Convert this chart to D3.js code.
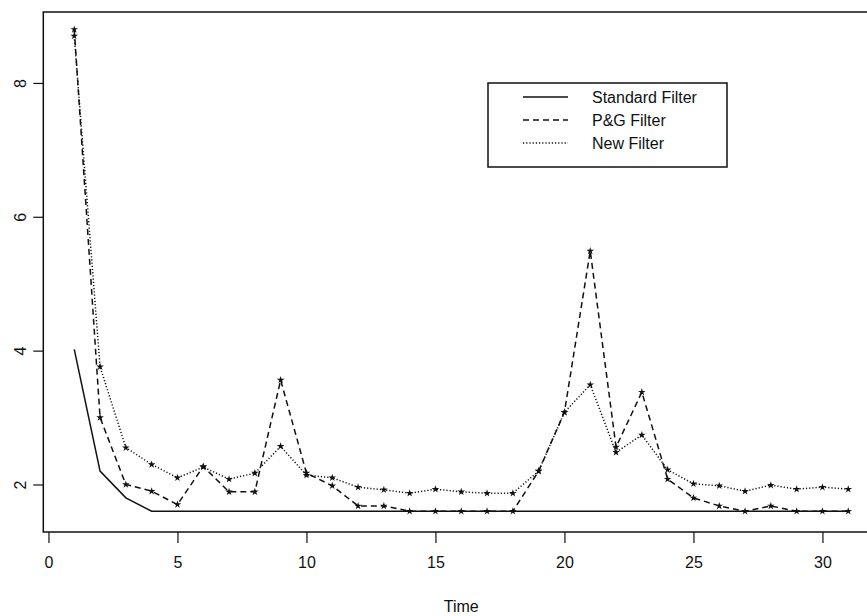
<!DOCTYPE html>
<html>
<head>
<meta charset="utf-8">
<script src="https://cdn.jsdelivr.net/npm/d3@7"></script>
<style>
  body { margin: 0; background: #fff; }
  svg { display: block; font-family: "Liberation Sans", Arial, sans-serif; }
</style>
</head>
<body>
<div id="chart"></div>
<script>
const times = d3.range(1, 32);
const standardFilter = [4.02, 2.2, 1.8, 1.6, 1.6, 1.6, 1.6, 1.6, 1.6, 1.6, 1.6, 1.6, 1.6, 1.6, 1.6, 1.6,
  1.6, 1.6, 1.6, 1.6, 1.6, 1.6, 1.6, 1.6, 1.6, 1.6, 1.6, 1.6, 1.6, 1.6, 1.6];
const pgFilter = [8.8, 3.0, 2.0, 1.9, 1.7, 2.27, 1.89, 1.89, 3.56, 2.17, 1.98, 1.68, 1.68, 1.6, 1.6, 1.6,
  1.6, 1.6, 2.2, 3.08, 5.49, 2.56, 3.38, 2.08, 1.8, 1.68, 1.6, 1.68, 1.6, 1.6, 1.6];
const newFilter = [8.7, 3.76, 2.55, 2.3, 2.1, 2.26, 2.08, 2.17, 2.57, 2.14, 2.1, 1.96, 1.92, 1.87, 1.93, 1.89,
  1.87, 1.87, 2.2, 3.08, 3.49, 2.48, 2.74, 2.22, 2.01, 1.98, 1.9, 1.99, 1.93, 1.96, 1.93];
const xTicks = [0, 5, 10, 15, 20, 25, 30];
const yTicks = [2, 4, 6, 8];
const legendLabels = ["Standard Filter", "P&G Filter", "New Filter"];

const width = 867;
const height = 616;
const ink = "#111";

const svg = d3.select("#chart")
  .append("svg")
  .attr("width", width)
  .attr("height", height);

svg.append("rect").attr("width", width).attr("height", height).attr("fill", "#fff");

// plot region (right edge sits off the page, as in the scan)
const x = d3.scaleLinear().domain([-0.2, 32.2]).range([43.3, 879.2]);
const y = d3.scaleLinear().domain([1.29, 9.06]).range([532, 12]);

// box
svg.append("rect")
  .attr("x", x(-0.2)).attr("y", y(9.06))
  .attr("width", x(32.2) - x(-0.2)).attr("height", y(1.29) - y(9.06))
  .attr("fill", "none").attr("stroke", ink).attr("stroke-width", 1.5);

// x axis
const xAxis = svg.append("g")
  .attr("transform", `translate(0, ${y(1.29)})`)
  .call(d3.axisBottom(x).tickValues(xTicks).tickSize(11).tickPadding(14).tickFormat(d3.format("d")));
xAxis.select(".domain").remove();
xAxis.selectAll("line").attr("stroke", ink).attr("stroke-width", 1.2);
xAxis.selectAll("text").attr("fill", ink).style("font-size", "16px");

// y axis, labels turned like R
const yAxis = svg.append("g")
  .attr("transform", `translate(${x(-0.2)}, 0)`)
  .call(d3.axisLeft(y).tickValues(yTicks).tickSize(10).tickFormat(d3.format("d")));
yAxis.select(".domain").remove();
yAxis.selectAll("line").attr("stroke", ink).attr("stroke-width", 1.2);
yAxis.selectAll("text")
  .attr("fill", ink)
  .style("font-size", "16px")
  .attr("x", null)
  .attr("dy", "0.35em")
  .attr("text-anchor", "middle")
  .attr("transform", "translate(-23, 0) rotate(-90)");

svg.append("text")
  .attr("x", x(16))
  .attr("y", 612)
  .attr("text-anchor", "middle")
  .attr("fill", ink)
  .style("font-size", "16px")
  .text("Time");

const series = [
  { name: legendLabels[0], values: standardFilter, dash: null, marks: false },
  { name: legendLabels[1], values: pgFilter, dash: "6,4", marks: true },
  { name: legendLabels[2], values: newFilter, dash: "1.2,2", marks: true }
];

const line = d3.line()
  .x((d, i) => x(times[i]))
  .y(d => y(d));

const star = d3.symbol().type(d3.symbolStar).size(18);

series.forEach(s => {
  svg.append("path")
    .datum(s.values)
    .attr("d", line)
    .attr("fill", "none")
    .attr("stroke", ink)
    .attr("stroke-width", 1.5)
    .attr("stroke-dasharray", s.dash);

  if (s.marks) {
    svg.append("g").selectAll("path")
      .data(s.values)
      .join("path")
      .attr("d", star)
      .attr("transform", (d, i) => `translate(${x(times[i])}, ${y(d)})`)
      .attr("fill", ink);
  }
});

// legend
const legend = svg.append("g");
legend.append("rect")
  .attr("x", 488).attr("y", 83)
  .attr("width", 239).attr("height", 84)
  .attr("fill", "#fff").attr("stroke", ink).attr("stroke-width", 1.5);

series.forEach((s, i) => {
  const ly = 97 + i * 23;
  legend.append("line")
    .attr("x1", 523).attr("x2", 568)
    .attr("y1", ly).attr("y2", ly)
    .attr("stroke", ink).attr("stroke-width", 1.5)
    .attr("stroke-dasharray", s.dash);
  legend.append("text")
    .attr("x", 592).attr("y", ly)
    .attr("dy", "0.35em")
    .attr("fill", ink)
    .style("font-size", "16px")
    .text(s.name);
});
</script>
</body>
</html>
